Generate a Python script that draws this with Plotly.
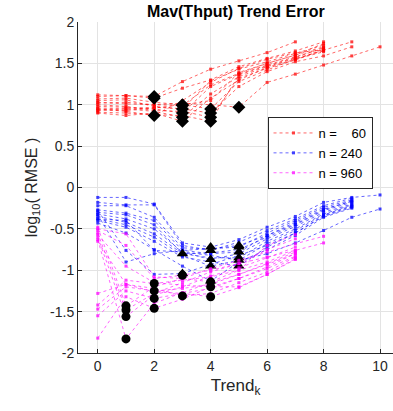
import plotly.graph_objects as go

# ---- data: log10(RMSE) per trend order k (k = 0,1,2,...) ----
red_lines = [
    [1.10, 1.11, 1.10, 1.28, 1.43, 1.53, 1.63, 1.76],
    [1.12, 1.11, 1.08, 1.20, 1.30, 1.46, 1.56, 1.65, 1.76],
    [0.95, 0.92, 0.87, 1.05, 1.27, 1.44, 1.55, 1.63, 1.66, 1.76],
    [1.02, 1.03, 1.00, 0.99, 1.24, 1.38, 1.50, 1.60, 1.70],
    [1.05, 1.06, 0.98, 0.95, 1.29, 1.43, 1.52, 1.62, 1.72],
    [0.98, 0.97, 0.95, 0.90, 1.22, 1.37, 1.48, 1.58, 1.68],
    [0.93, 0.95, 0.92, 0.85, 1.13, 1.34, 1.46, 1.56, 1.65],
    [0.90, 0.87, 0.90, 0.80, 1.08, 1.30, 1.45, 1.55, 1.64],
    [1.07, 1.08, 1.03, 1.00, 0.95, 1.28, 1.42, 1.55, 1.66],
    [0.96, 0.95, 0.97, 0.95, 0.90, 1.22, 1.40, 1.52, 1.59, 1.70],
    [1.00, 0.98, 0.93, 0.92, 0.85, 1.32, 1.44, 1.54, 1.67],
    [0.91, 0.90, 0.88, 0.87, 0.80, 1.36, 1.47, 1.57, 1.69],
    [1.03, 1.01, 1.00, 1.02, 1.00, 0.97, 1.27, 1.37, 1.48, 1.59, 1.70],
    [0.94, 0.93, 0.96, 1.00, 1.05, 1.39, 1.50, 1.60, 1.74],
]
red_best = [2, 2, 2, 3, 3, 3, 3, 3, 4, 4, 4, 4, 5, 3]

blue_lines = [
    [-0.12, -0.12, -0.20, -0.67, -0.72, -0.63, -0.48, -0.35, -0.18, -0.12, -0.09],
    [-0.18, -0.21, -0.21, -0.70, -0.76, -0.66, -0.52, -0.38, -0.22, -0.13],
    [-0.22, -0.22, -0.36, -0.73, -0.74, -0.72, -0.55, -0.40, -0.24, -0.15],
    [-0.27, -0.31, -0.40, -0.76, -0.80, -0.78, -0.58, -0.42, -0.26, -0.17],
    [-0.30, -0.33, -0.45, -0.80, -0.79, -0.75, -0.60, -0.45, -0.28, -0.18],
    [-0.32, -0.38, -0.50, -0.78, -0.87, -0.80, -0.62, -0.47, -0.30, -0.20],
    [-0.35, -0.42, -0.56, -0.80, -0.85, -0.85, -0.65, -0.50, -0.32, -0.21],
    [-0.38, -0.45, -0.60, -0.82, -0.95, -0.88, -0.68, -0.52, -0.33, -0.22],
    [-0.40, -0.48, -0.65, -0.84, -0.90, -0.95, -0.72, -0.55, -0.35, -0.24],
    [-0.43, -0.55, -0.75, -0.95, -1.13, -0.90, -0.75, -0.58, -0.36, -0.25],
    [-0.28, -0.76, -1.05, -1.04, -0.93, -0.82, -0.70, -0.55, -0.34, -0.23],
    [-0.33, -0.90, -0.80, -0.76, -0.74, -0.70, -0.58, -0.44, -0.27, -0.16],
    [-0.38, -0.40, -0.76, -0.78, -0.82, -0.88, -0.80, -0.67, -0.52, -0.36, -0.26],
]
blue_best = [4, 4, 5, 5, 3, 4, 5, 4, 5, 4, 3, 5, 5]

magenta_lines = [
    [-0.48, -1.43, -1.20, -1.10, -0.98, -0.88, -0.78, -0.68, -0.59],
    [-0.55, -1.48, -1.28, -1.15, -1.02, -0.92, -0.84, -0.76, -0.67],
    [-0.60, -1.56, -1.30, -1.20, -1.07, -0.97, -0.85, -0.72],
    [-0.63, -1.83, -1.40, -1.27, -1.15, -1.05, -0.92, -0.78],
    [-1.82, -1.32, -1.46, -1.35, -1.20, -1.20, -1.05, -0.86],
    [-1.55, -1.25, -1.34, -1.28, -1.22, -1.10, -0.98, -0.83],
    [-1.47, -1.20, -1.25, -1.22, -1.17, -1.05, -0.93, -0.80],
    [-1.42, -1.12, -1.16, -1.12, -1.08, -1.00, -0.90, -0.76],
    [-1.28, -1.17, -1.22, -1.31, -1.28, -1.15, -1.02, -0.84],
    [-0.52, -0.70, -1.10, -1.06, -1.00, -0.92, -0.75, -0.62],
    [-0.57, -0.95, -1.15, -1.18, -1.20, -1.10, -0.96, -0.80],
    [-0.65, -1.17, -1.26, -1.28, -1.32, -1.21, -1.05, -0.87],
    [-0.50, -0.56, -1.08, -1.10, -1.14, -1.00, -0.70, -0.57],
]
magenta_best = [1, 1, 1, 1, 2, 2, 2, 2, 3, 3, 4, 4, 4]

groups = [
    ("n =\u00a0\u00a0\u00a0\u00a060", red_lines, red_best, "#ff0000", "diamond", 10),
    ("n = 240", blue_lines, blue_best, "#0000ff", "triangle-up", 10),
    ("n = 960", magenta_lines, magenta_best, "#ff00ff", "circle", 9),
]

x_ticks = [0, 2, 4, 6, 8, 10]
y_ticks = [-2, -1.5, -1, -0.5, 0, 0.5, 1, 1.5, 2]

fig = go.Figure()
for name, lines, best, color, sym, msize in groups:
    for i, ys in enumerate(lines):
        fig.add_trace(go.Scatter(
            x=list(range(len(ys))), y=ys, mode="lines+markers",
            line=dict(color=color, width=0.8, dash="dot"),
            marker=dict(color=color, size=3, symbol="square"),
            opacity=0.75,
            name=name, legendgroup=name, showlegend=(i == 0),
        ))
    fig.add_trace(go.Scatter(
        x=best, y=[ys[b] for ys, b in zip(lines, best)], mode="markers",
        marker=dict(color="black", size=msize, symbol=sym),
        showlegend=False, hoverinfo="skip",
    ))

axis_col = "#262626"
grid_col = "#e3e3e3"
fig.update_layout(
    width=393, height=411,
    margin=dict(l=78, r=0, t=22, b=58),
    paper_bgcolor="white", plot_bgcolor="white",
    font=dict(family="Liberation Sans, Arial, sans-serif", size=14, color=axis_col),
    title=dict(text="<b>Mav(Thput) Trend Error</b>", x=0.6, xanchor="center",
               y=0.972, yanchor="middle", font=dict(size=16, color="black")),
    xaxis=dict(range=[-0.7, 10.46], tickvals=x_ticks, ticktext=[str(v) for v in x_ticks],
               showgrid=True, gridcolor=grid_col, gridwidth=1, zeroline=False,
               showline=True, linecolor=axis_col, linewidth=1,
               ticks="inside", ticklen=4, tickcolor=axis_col,
               title=dict(text="Trend<sub>k</sub>", font=dict(size=17), standoff=6)),
    yaxis=dict(range=[-2, 2], tickvals=y_ticks, ticktext=[f"{v:g}" for v in y_ticks],
               showgrid=True, gridcolor=grid_col, gridwidth=1, zeroline=False,
               showline=True, linecolor=axis_col, linewidth=1,
               ticks="inside", ticklen=4, tickcolor=axis_col,
               title=dict(text="log<sub>10</sub>( RMSE )", font=dict(size=16), standoff=8)),
    legend=dict(x=0.935, y=0.713, xanchor="right", yanchor="top",
                bgcolor="white", bordercolor=axis_col, borderwidth=1,
                font=dict(size=13, color="black"), tracegroupgap=0,
                itemwidth=40),
)

fig.write_html("out.html")
